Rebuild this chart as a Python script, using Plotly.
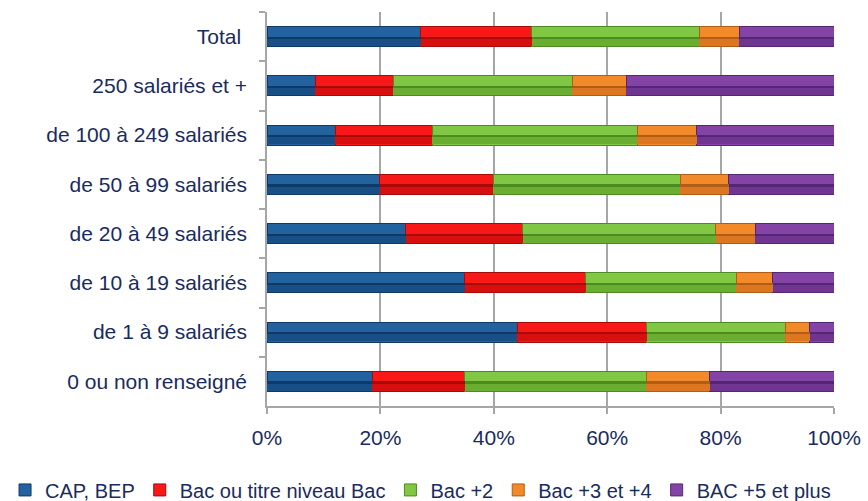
import plotly.graph_objects as go

categories = ["Total\u00a0", "250 salariés et +", "de 100 à 249 salariés", "de 50 à 99 salariés",
              "de 20 à 49 salariés", "de 10 à 19 salariés", "de 1 à 9 salariés", "0 ou non renseigné"]

series_names = ["CAP, BEP", "Bac ou titre niveau Bac", "Bac +2", "Bac +3 et +4", "BAC +5 et plus"]

cap_bep = [27.1, 8.5, 12.0, 19.9, 24.5, 34.9, 44.1, 18.6]
bac = [19.6, 13.8, 17.1, 20.0, 20.6, 21.3, 22.9, 16.3]
bac2 = [29.5, 31.5, 36.2, 33.0, 34.0, 26.6, 24.4, 32.0]
bac34 = [7.1, 9.6, 10.5, 8.5, 7.0, 6.4, 4.3, 11.2]
bac5 = [16.7, 36.6, 24.2, 18.6, 13.9, 10.8, 4.3, 21.9]

x_ticks = [0, 20, 40, 60, 80, 100]
x_tick_labels = ["0%", "20%", "40%", "60%", "80%", "100%"]

colors = ["#22629F", "#F81818", "#80C843", "#F38A2A", "#8444A6"]
shade_colors = ["#184F86", "#D80F0F", "#69AE30", "#DC7620", "#6F3590"]
line_colors = ["#0F3A66", "#A80A0A", "#4E8A22", "#B05E15", "#552675"]

values = [cap_bep, bac, bac2, bac34, bac5]

fig = go.Figure()
for name, vals, col, ec in zip(series_names, values, colors, line_colors):
    fig.add_trace(go.Bar(
        y=categories, x=vals, name=name, orientation="h",
        marker=dict(color=col, line=dict(color=ec, width=1)),
        width=0.41,
    ))

# bevel shading: darker lower band and dark centre line (same data, overlaid axes)
for vals, sc in zip(values, shade_colors):
    fig.add_trace(go.Bar(
        y=categories, x=vals, orientation="h", yaxis="y2", showlegend=False,
        marker=dict(color=sc, line=dict(width=0)), width=0.17, offset=0.02,
        hoverinfo="skip",
    ))
for vals, lc in zip(values, line_colors):
    fig.add_trace(go.Bar(
        y=categories, x=vals, orientation="h", yaxis="y3", showlegend=False,
        marker=dict(color=lc, line=dict(width=0)), width=0.045, offset=0.0,
        hoverinfo="skip",
    ))

text_color = "#1A2B5E"
font_family = "Liberation Sans, Arial, sans-serif"

overlay_axis = dict(categoryorder="array", categoryarray=categories, autorange="reversed",
                    overlaying="y", visible=False, fixedrange=True, showgrid=False)

fig.update_layout(
    barmode="stack",
    width=868, height=501,
    margin=dict(l=267, r=34, t=12, b=95, autoexpand=False),
    plot_bgcolor="white", paper_bgcolor="white",
    font=dict(family=font_family, size=21, color=text_color),
    showlegend=True,
    legend=dict(orientation="h", x=-0.462, xanchor="left",
                y=-0.213, yanchor="middle",
                font=dict(size=20, color=text_color), itemwidth=30,
                traceorder="normal", tracegroupgap=0, itemclick=False,
                bgcolor="rgba(0,0,0,0)"),
    xaxis=dict(range=[0, 100], tickvals=x_ticks, ticktext=x_tick_labels,
               showgrid=True, gridcolor="#A6A6A6", gridwidth=1.5,
               showline=True, linecolor="#A6A6A6", linewidth=1.5,
               ticks="outside", ticklen=6, tickcolor="#A6A6A6", tickwidth=1.5,
               ticklabelstandoff=6, automargin=False,
               tickfont=dict(size=21, color=text_color), zeroline=False, fixedrange=True),
    yaxis=dict(categoryorder="array", categoryarray=categories, autorange="reversed",
               showline=True, linecolor="#A6A6A6", linewidth=1.5,
               ticks="outside", ticklen=6, tickcolor="#A6A6A6", tickwidth=1.5,
               tickson="boundaries", ticklabelstandoff=14, automargin=False,
               tickfont=dict(size=21, color=text_color), showgrid=False, fixedrange=True),
    yaxis2=overlay_axis,
    yaxis3=overlay_axis,
)

fig.write_html("out.html", post_script="document.body.style.margin='0';",
               config={"displayModeBar": False})
